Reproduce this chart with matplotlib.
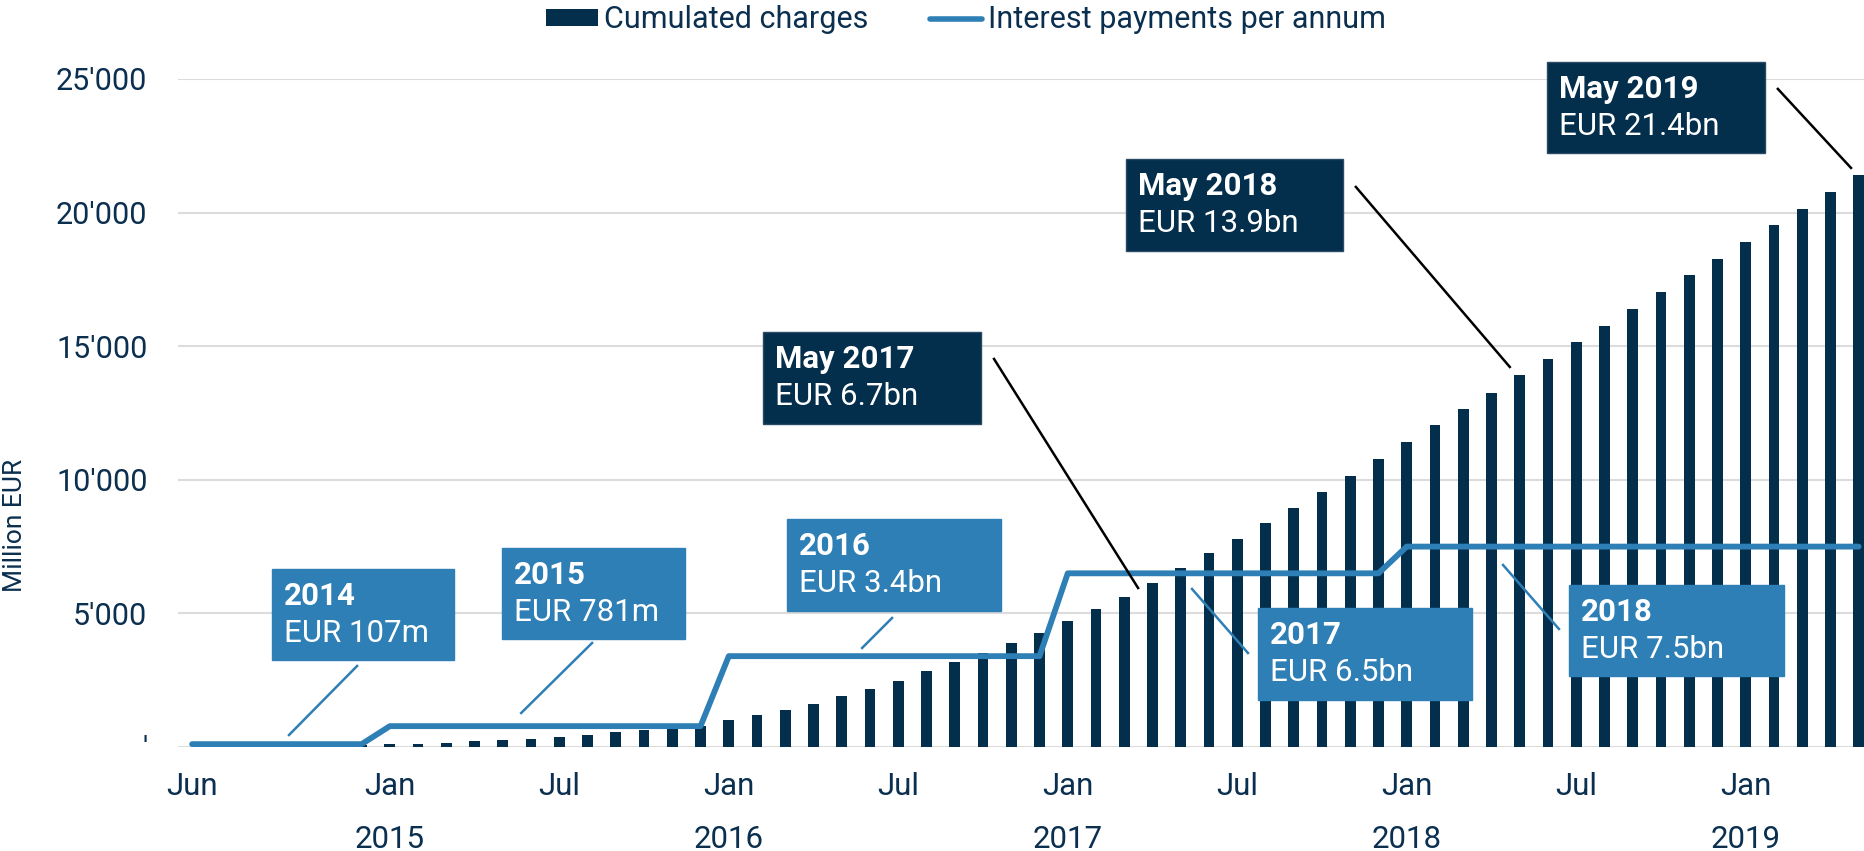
import numpy as np
import pandas as pd
import matplotlib
matplotlib.use("Agg")
import matplotlib.pyplot as plt
from matplotlib.patches import Rectangle, Patch
from matplotlib.lines import Line2D
import matplotlib.transforms as mtransforms

plt.rcParams['font.family'] = ['Roboto', 'DejaVu Sans']

# monthly categories, Jun 2014 - May 2019
months = pd.date_range('2014-06-01', periods=60, freq='MS')

# cumulated charges (million EUR)
charges = [9, 18, 27, 36, 45, 54, 62,
           100, 125, 162, 212, 250, 312, 374, 462, 549, 636, 705, 800,
           1023, 1185, 1385, 1622, 1897, 2183, 2483, 2833, 3169, 3520, 3892, 4280,
           4710, 5147, 5627, 6150, 6687, 7250, 7798, 8372, 8957, 9555, 10160, 10773,
           11416, 12041, 12651, 13263, 13905, 14516, 15143, 15769, 16395, 17022, 17648, 18274,
           18902, 19527, 20138, 20780, 21406]

# interest payments per annum (million EUR)
interest = [107, 107, 107, 107, 107, 107, 107,
            781, 781, 781, 781, 781, 781, 781, 781, 781, 781, 781, 781,
            3400, 3400, 3400, 3400, 3400, 3400, 3400, 3400, 3400, 3400, 3400, 3400,
            6500, 6500, 6500, 6500, 6500, 6500, 6500, 6500, 6500, 6500, 6500, 6500,
            7500, 7500, 7500, 7500, 7500, 7500, 7500, 7500, 7500, 7500, 7500, 7500,
            7500, 7500, 7500, 7500, 7500]

ytick_vals = [0, 5000, 10000, 15000, 20000, 25000]
ytick_labels = ["'", "5'000", "10'000", "15'000", "20'000", "25'000"]

# annotation boxes: title, value text, style, box (x0, x1, top, bottom), leader (x0, y0, x1, y1)
notes = [
    ("2014", "EUR 107m", "light", (2.83, 9.27, 6663, 3256), (5.84, 3032, 3.43, 449)),
    ("2015", "EUR 781m", "light", (10.97, 17.45, 7449, 4042), (14.16, 3893, 11.65, 1273)),
    ("2016", "EUR 3.4bn", "light", (21.06, 28.64, 8534, 5090), (24.78, 4828, 23.72, 3706)),
    ("May 2017", "EUR 6.7bn", "dark", (20.21, 27.93, 15533, 12090), (28.39, 14523, 33.49, 5951)),
    ("2017", "EUR 6.5bn", "light", (37.73, 45.31, 5203, 1759), (35.40, 5914, 37.38, 3518)),
    ("May 2018", "EUR 13.9bn", "dark", (33.06, 40.74, 22009, 18565), (41.20, 20961, 46.65, 14223)),
    ("2018", "EUR 7.5bn", "light", (48.74, 56.35, 6064, 2658), (46.41, 6812, 48.39, 4417)),
    ("May 2019", "EUR 21.4bn", "dark", (47.96, 55.68, 25640, 22233), (56.14, 24629, 58.73, 21672)),
]

navy = '#032e4c'
blue = '#2e7fb5'
textcol = '#0b2f4f'
gridcol = '#dcdcdc'

W, H = 1864, 851
fig = plt.figure(figsize=(W / 100, H / 100), dpi=100)
ax = fig.add_axes([178 / W, 1 - 747 / H, 1 - 178 / W, 668 / H])

x = np.arange(len(months))
ax.bar(x, charges, width=0.38, color=navy, zorder=2)
ax.plot(x, interest, color=blue, lw=4.2, zorder=3,
        solid_capstyle='round', solid_joinstyle='round')

ax.set_xlim(-0.5, 59.19)
ax.set_ylim(0, 25000)
ax.set_yticks(ytick_vals)
ax.set_yticklabels(ytick_labels)
ax.yaxis.grid(True, color=gridcol, lw=1.5)
ax.set_axisbelow(True)
for s in ax.spines.values():
    s.set_visible(False)
ax.tick_params(axis='y', length=0, pad=22, labelsize=22, labelcolor=textcol)

# month ticks: Jun 2014, then every Jan / Jul from 2015
tick_idx = [i for i, m in enumerate(months) if i == 0 or (m.year >= 2015 and m.month in (1, 7))]
ax.set_xticks(tick_idx)
ax.set_xticklabels([months[i].strftime('%b') for i in tick_idx])
ax.tick_params(axis='x', length=0, pad=18, labelsize=22.5, labelcolor=textcol)

trans = mtransforms.blended_transform_factory(ax.transData, ax.transAxes)
for i, m in enumerate(months):
    if m.month == 1:
        ax.text(i, -0.138, str(m.year), transform=trans, ha='center', va='center',
                fontsize=22.5, color=textcol)

fig.text(15 / W, 1 - 525 / H, 'Million EUR', rotation=90, ha='center', va='center',
         fontsize=19, color=textcol)

# annotation boxes
for title, val, style, box, lead in notes:
    fc = navy if style == 'dark' else blue
    lc = 'black' if style == 'dark' else blue
    x0, x1, top, bot = box
    ax.add_patch(Rectangle((x0, bot), x1 - x0, top - bot, facecolor=fc,
                           edgecolor='#2a4a66' if style == 'dark' else fc, lw=1,
                           zorder=5, clip_on=False))
    ax.text(x0 + 0.42, top - 1010, title, ha='left', va='center', fontsize=22.5,
            fontweight='bold', color='white', zorder=6, clip_on=False)
    ax.text(x0 + 0.42, top - 2433, val, ha='left', va='center', fontsize=22.5,
            color='white', zorder=6, clip_on=False)
    ax.plot([lead[0], lead[2]], [lead[1], lead[3]], color=lc, lw=1.8,
            zorder=4, clip_on=False)

handles = [Patch(facecolor=navy),
           Line2D([], [], color=blue, lw=4, solid_capstyle='round')]
fig.legend(handles, ['Cumulated charges', 'Interest payments per annum'],
           loc='center', bbox_to_anchor=(966 / W, 1 - 20 / H), ncol=2, frameon=False,
           fontsize=22, handlelength=1.7, handleheight=0.5, handletextpad=0.2,
           columnspacing=2.0, labelcolor=textcol)

fig.savefig('out.png', dpi=100)
